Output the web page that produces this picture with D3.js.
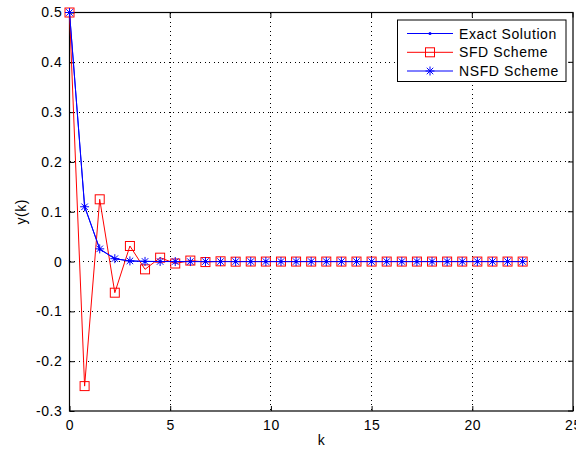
<!DOCTYPE html>
<html><head><meta charset="utf-8">
<script src="https://cdn.jsdelivr.net/npm/d3@7"></script>
<style>body{margin:0;background:#fff}svg{display:block;font-family:"Liberation Sans",Arial,sans-serif}</style>
</head><body><div id="chart"></div>
<script>
const kValues = [0,0.75,1.5,2.25,3,3.75,4.5,5.25,6,6.75,7.5,8.25,9,9.75,10.5,11.25,12,12.75,13.5,14.25,15,15.75,16.5,17.25,18,18.75,19.5,20.25,21,21.75,22.5];
const exactValues = [0.5,0.1116,0.0249,0.0056,0.0012,0.0003,0.0001,0,0,0,0,0,0,0,0,0,0,0,0,0,0,0,0,0,0,0,0,0,0,0,0];
const sfdValues = [0.5,-0.25,0.125,-0.0625,0.03125,-0.015625,0.0078,-0.0039,0.002,-0.001,0.0005,-0.0002,0.0001,0,0,0,0,0,0,0,0,0,0,0,0,0,0,0,0,0,0];
const nsfdValues = [0.5,0.1100,0.0255,0.0058,0.0013,0.0003,0.0001,0,0,0,0,0,0,0,0,0,0,0,0,0,0,0,0,0,0,0,0,0,0,0,0];
const xTicks = [0,5,10,15,20,25];
const yTicks = [-0.3,-0.2,-0.1,0,0.1,0.2,0.3,0.4,0.5];
const seriesNames = ["Exact Solution","SFD Scheme","NSFD Scheme"];

const W=576,H=455;
const L=69.5,R=573,T=12.5,B=411;
const FS=14, LS="0.6px";
const svg=d3.select("#chart").append("svg").attr("width",W).attr("height",H);
const x=d3.scaleLinear().domain([0,25]).range([L,R]);
const y=d3.scaleLinear().domain([-0.3,0.5]).range([B,T]);

// grid
const g=svg.append("g");
xTicks.slice(1,-1).forEach(t=>g.append("line").attr("x1",x(t)).attr("x2",x(t)).attr("y1",T).attr("y2",B)
  .attr("stroke","#000").attr("stroke-width",1).attr("stroke-dasharray","1,3.5").attr("shape-rendering","crispEdges"));
yTicks.slice(1,-1).forEach(t=>g.append("line").attr("y1",y(t)).attr("y2",y(t)).attr("x1",L).attr("x2",R)
  .attr("stroke","#000").attr("stroke-width",1).attr("stroke-dasharray","1,3.5").attr("shape-rendering","crispEdges"));

// axes
const xAxis=d3.axisBottom(x).tickValues(xTicks).tickSize(-5).tickPadding(9).tickFormat(d3.format("d"));
const yAxis=d3.axisLeft(y).tickValues(yTicks).tickSize(-5).tickPadding(7).tickFormat(d=>d===0?"0":d3.format(".1f")(d).replace("\u2212","-"));
const gx=svg.append("g").attr("transform",`translate(0,${B})`).call(xAxis);
const gy=svg.append("g").attr("transform",`translate(${L},0)`).call(yAxis);
[gx,gy].forEach(a=>{a.selectAll("text").attr("font-size",FS).attr("letter-spacing",LS).attr("fill","#000").attr("font-family","Liberation Sans,Arial,sans-serif");
 a.selectAll("line").attr("stroke","#000");a.select(".domain").remove();});
// top/right ticks
xTicks.forEach(t=>svg.append("line").attr("x1",x(t)).attr("x2",x(t)).attr("y1",T).attr("y2",T+5).attr("stroke","#000"));
yTicks.forEach(t=>svg.append("line").attr("y1",y(t)).attr("y2",y(t)).attr("x1",R).attr("x2",R-5).attr("stroke","#000"));
svg.append("rect").attr("x",L).attr("y",T).attr("width",R-L).attr("height",B-T).attr("fill","none").attr("stroke","#000").attr("stroke-width",1.2);

svg.append("text").attr("x",x(12.5)).attr("y",445).attr("text-anchor","middle").attr("font-size",FS).text("k");
svg.append("text").attr("transform",`translate(26,${y(0.1)}) rotate(-90)`).attr("text-anchor","middle").attr("font-size",FS).attr("letter-spacing",LS).text("y(k)");

const line=d3.line().x(d=>x(d[0])).y(d=>y(d[1]));
const exact=kValues.map((k,i)=>[k,exactValues[i]]);
const sfd=kValues.map((k,i)=>[k,sfdValues[i]]);
const nsfd=kValues.map((k,i)=>[k,nsfdValues[i]]);

function dot(sel,cx,cy){sel.append("circle").attr("cx",cx).attr("cy",cy).attr("r",1.5).attr("fill","#00f");}
function square(sel,cx,cy){sel.append("rect").attr("x",cx-4.5).attr("y",cy-4.5).attr("width",9).attr("height",9).attr("fill","none").attr("stroke","#f00").attr("stroke-width",1);}
function star(sel,cx,cy){const s=4.5,d=s*0.72;
 [[0,-s,0,s],[-s,0,s,0],[-d,-d,d,d],[-d,d,d,-d]].forEach(p=>sel.append("line").attr("x1",cx+p[0]).attr("y1",cy+p[1]).attr("x2",cx+p[2]).attr("y2",cy+p[3]).attr("stroke","#00f").attr("stroke-width",1));}

const pl=svg.append("g");
pl.append("path").attr("d",line(exact)).attr("fill","none").attr("stroke","#00f").attr("stroke-width",1);
exact.forEach(d=>dot(pl,x(d[0]),y(d[1])));
pl.append("path").attr("d",line(sfd)).attr("fill","none").attr("stroke","#f00").attr("stroke-width",1);
sfd.forEach(d=>square(pl,x(d[0]),y(d[1])));
pl.append("path").attr("d",line(nsfd)).attr("fill","none").attr("stroke","#00f").attr("stroke-width",1);
nsfd.forEach(d=>star(pl,x(d[0]),y(d[1])));

// legend
const lg=svg.append("g");
lg.append("rect").attr("x",397.5).attr("y",20).attr("width",168.5).attr("height",61.5).attr("fill","#fff").attr("stroke","#000").attr("stroke-width",1);
const rows=[33.5,52.3,71];
const cols=["#00f","#f00","#00f"];
const mk=[dot,square,star];
seriesNames.forEach((n,i)=>{
  lg.append("line").attr("x1",407).attr("x2",453).attr("y1",rows[i]).attr("y2",rows[i]).attr("stroke",cols[i]).attr("stroke-width",1);
  mk[i](lg,430,rows[i]);
  lg.append("text").attr("x",459).attr("y",rows[i]+5).attr("font-size",FS).attr("letter-spacing",LS).text(n);
});
</script></body></html>
